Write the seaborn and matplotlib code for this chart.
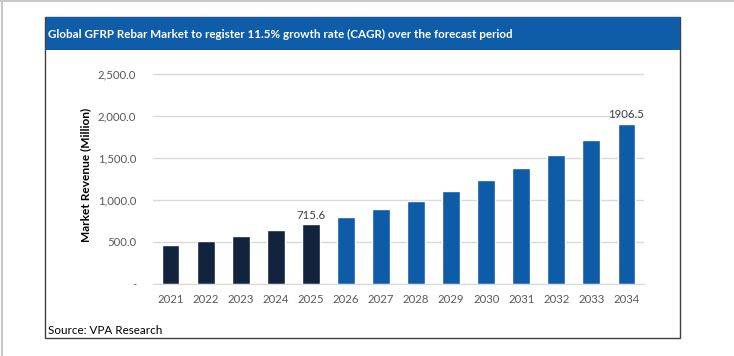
import matplotlib
matplotlib.use("Agg")
import matplotlib.pyplot as plt
import matplotlib.patches as mpatches
import matplotlib.ticker as mticker
import seaborn as sns
import pandas as pd

# data
years = ["2021", "2022", "2023", "2024", "2025", "2026", "2027",
         "2028", "2029", "2030", "2031", "2032", "2033", "2034"]
revenue = [463.0, 517.0, 576.0, 641.8, 715.6, 798.0, 889.0,
           992.0, 1106.0, 1233.0, 1375.0, 1533.0, 1709.0, 1906.5]
period = ["hist"] * 5 + ["forecast"] * 9
labelled = {"2025": "715.6", "2034": "1906.5"}

navy = "#12233d"
blue = "#0e5ca7"

sns.set_style("white")
plt.rcParams['font.family'] = ['Lato', 'DejaVu Sans']

df = pd.DataFrame({"Year": years, "Revenue": revenue, "Period": period})

W, H = 734, 356
fig = plt.figure(figsize=(W / 100, H / 100), dpi=100)

def fx(x):
    return x / W

def fy(y):
    return 1 - y / H

# page border lines (light gray) and chart box
fig.add_artist(plt.Line2D([0, 1], [fy(1), fy(1)], color="#c8c8c8", lw=1.5))
fig.add_artist(plt.Line2D([fx(2), fx(2)], [0, 1], color="#c8c8c8", lw=1.5))
fig.add_artist(mpatches.Rectangle((fx(45), fy(338)), fx(680) - fx(45), fy(17) - fy(338),
                                  fill=False, edgecolor="#404040", lw=1))
fig.add_artist(mpatches.Rectangle((fx(46), fy(50)), fx(680) - fx(46), fy(17) - fy(50),
                                  facecolor="#0f5ca8", edgecolor="none"))
fig.text(fx(48), fy(34), "Global GFRP Rebar Market to register 11.5% growth rate (CAGR) over the forecast period",
         color="white", fontsize=8.35, fontweight="bold", va="center", ha="left")
fig.text(fx(48), fy(330), "Source: VPA Research", color="black", fontsize=8.4, va="center", ha="left")

ymax = 2600
top_px = 284 - 210 * ymax / 2500
ax = fig.add_axes([fx(153), fy(284), fx(644) - fx(153), fy(top_px) - fy(284)])

sns.barplot(data=df, x="Year", y="Revenue", hue="Period",
            palette={"hist": navy, "forecast": blue}, width=0.51,
            legend=False, ax=ax, saturation=1)

ax.set_ylim(0, ymax)
ax.set_xlim(-0.5, len(years) - 0.5)
ax.set_yticks([0, 500, 1000, 1500, 2000, 2500])
ax.yaxis.set_major_formatter(mticker.FuncFormatter(lambda v, p: "-" if v == 0 else f"{v:,.1f}"))
ax.grid(axis="y", color="#d9d9d9", lw=1)
ax.set_axisbelow(True)
for s in ["top", "right", "left"]:
    ax.spines[s].set_visible(False)
ax.spines["bottom"].set_color("#d9d9d9")
ax.tick_params(axis="both", length=0, colors="#595959", labelsize=8.2)
ax.tick_params(axis="y", pad=12)
ax.tick_params(axis="x", pad=7)
ax.set_xlabel("")
ax.set_ylabel("Market Revenue (Million)", fontsize=8.6, fontweight="bold", color="black", labelpad=5)

for i, (yr, v) in enumerate(zip(years, revenue)):
    if yr in labelled:
        ax.text(i, v + 40, labelled[yr], ha="center", va="bottom", fontsize=8.2, color="#404040")

fig.savefig("out.png", dpi=100)
